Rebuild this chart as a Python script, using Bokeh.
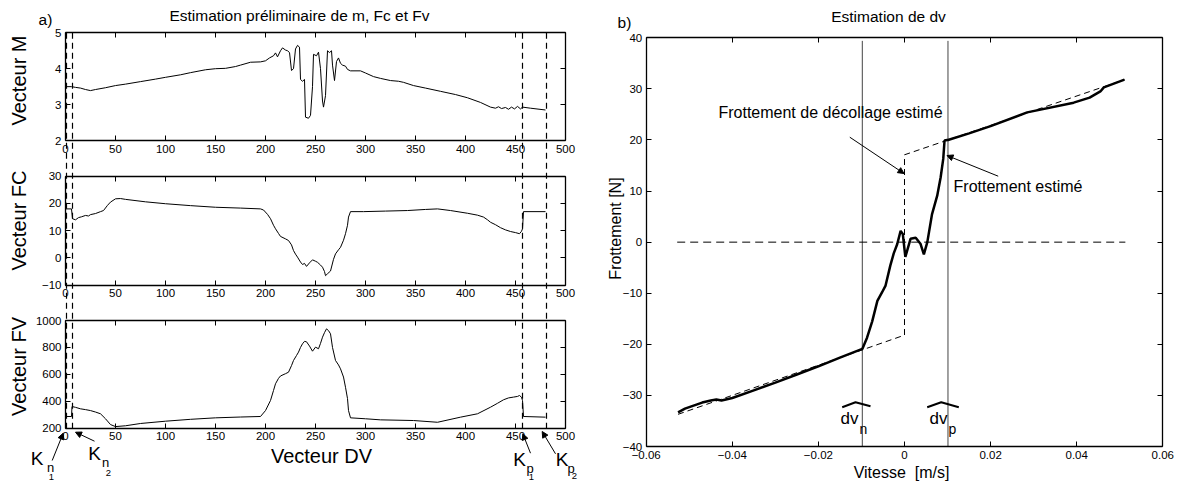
from bokeh.plotting import figure
from bokeh.models import Range1d, LinearAxis, FixedTicker, Label, Arrow, NormalHead
from bokeh.embed import file_html
from bokeh.resources import INLINE
import math

FONT = "Liberation Sans"

# ---------------- panel a) data ----------------
dv_m = [0, 6, 10, 15, 20, 25, 30, 40, 50, 60, 75, 90, 100, 115, 125, 140, 150, 160, 170, 175, 185, 195,
        200, 204, 208, 210, 212, 215, 217, 220, 222, 224, 226, 228, 230, 232, 234, 235, 237, 239, 240,
        243, 245, 247, 248, 251, 253, 255, 257, 258, 260, 262, 264, 266, 267, 269, 271, 273, 275, 277,
        280, 282, 285, 295, 300, 308, 315, 325, 333, 338, 348, 360, 375, 390, 402, 415, 425, 430, 433,
        436, 440, 443, 446, 449, 452, 455, 457, 465, 480]
m_vals = [3.5, 3.5, 3.48, 3.46, 3.42, 3.39, 3.42, 3.47, 3.53, 3.57, 3.64, 3.71, 3.76, 3.83, 3.89, 3.97,
          4.0, 4.01, 4.06, 4.10, 4.18, 4.19, 4.22, 4.3, 4.36, 4.44, 4.33, 4.5, 4.58, 4.52, 4.5, 4.45,
          3.95, 4.0, 4.55, 4.65, 4.6, 3.7, 3.65, 3.7, 2.65, 2.62, 2.7, 3.5, 4.4, 4.36, 4.46, 4.0, 3.1,
          2.93, 3.25, 4.5, 4.45, 4.5, 4.1, 3.67, 4.2, 4.3, 4.15, 4.1, 4.07, 3.98, 3.94, 3.94, 3.88, 3.78,
          3.73, 3.67, 3.65, 3.62, 3.53, 3.46, 3.37, 3.28, 3.19, 3.06, 2.93, 2.9, 2.94, 2.89, 2.92, 2.87,
          2.93, 2.88, 2.95, 2.88, 2.93, 2.9, 2.85]

dv_fc = [0, 6, 7, 10, 13, 16, 20, 23, 25, 30, 35, 38, 42, 45, 50, 55, 60, 80, 100, 125, 150, 175, 195,
         198, 202, 205, 208, 210, 213, 215, 220, 223, 226, 228, 230, 232, 235, 237, 239, 241, 244, 247,
         250, 252, 255, 257, 259, 260, 262, 265, 268, 270, 273, 275, 278, 280, 282, 283, 285, 298, 320,
         342, 360, 372, 385, 402, 412, 418, 422, 425, 430, 435, 440, 445, 450, 454, 456, 457, 458, 480]
fc_vals = [18, 18, 14.4, 14, 14.8, 15.1, 15.6, 15.4, 15.9, 16.3, 17.0, 17.4, 19.3, 20.5, 21.7, 21.8,
           21.5, 20.6, 19.9, 19.2, 18.6, 18.3, 18.0, 17.6, 16.0, 14.4, 12.0, 10.7, 9.0, 7.9, 7.0, 6.4,
           4.8, 2.7, 1.4, 0.3, -1.5, -2.4, -2.0, -3.1, -1.8, -0.7, -1.2, -1.6, -2.6, -3.4, -5.0, -6.5,
           -5.8, -4.8, -0.5, 1.5, 3.0, 3.9, 6.5, 8.9, 12.0, 15.0, 17.0, 17.0, 17.2, 17.4, 17.8, 18.0,
           17.4, 16.4, 15.7, 15.0, 14.0, 13.1, 12.2, 11.1, 10.3, 9.7, 9.3, 8.9, 9.8, 10.7, 17.0, 17.0]

dv_fv = [0, 6, 6.5, 10, 15, 20, 25, 30, 35, 40, 45, 50, 60, 75, 100, 125, 150, 175, 195, 200, 205, 208,
         210, 213, 215, 220, 223, 226, 228, 231, 233, 235, 237, 239, 241, 244, 247, 250, 253, 255, 257,
         259, 261, 263, 265, 267, 270, 273, 275, 278, 280, 282, 283, 285, 300, 315, 348, 372, 395, 412,
         425, 432, 438, 443, 448, 452, 454, 456, 457, 458, 480]
fv_vals = [287, 287, 361, 355, 344, 338, 331, 320, 307, 270, 227, 212, 218, 235, 252, 266, 277, 283, 287,
           331, 406, 480, 530, 570, 588, 605, 616, 665, 703, 740, 765, 800, 827, 845, 842, 810, 772, 802,
           790, 830, 876, 910, 938, 925, 901, 800, 703, 670, 641, 580, 504, 420, 331, 277, 270, 262, 257,
           244, 282, 307, 356, 385, 411, 425, 431, 436, 443, 430, 406, 287, 282]

x_ticks_a = [0, 50, 100, 150, 200, 250, 300, 350, 400, 450, 500]
m_ticks = [2, 3, 4, 5]
fc_ticks = [-10, 0, 10, 20, 30]
fv_ticks = [200, 400, 600, 800, 1000]
k_marks = [1, 7, 457, 481]

# ---------------- panel b) data ----------------
v_meas = [-0.0526, -0.0510, -0.049, -0.047, -0.045, -0.0437, -0.0425, -0.040, -0.035, -0.030, -0.025,
          -0.020, -0.015, -0.0098, -0.0087, -0.0075, -0.0063, -0.0052, -0.0044, -0.0033, -0.0025,
          -0.0017, -0.0009, -0.0004, 0.0002, 0.0014, 0.0026, 0.0037, 0.0045, 0.0053, 0.0064, 0.0076,
          0.0084, 0.0090, 0.0093, 0.0099, 0.0101, 0.015, 0.020, 0.0285, 0.0393, 0.043, 0.0455, 0.0463,
          0.0511]
f_meas = [-33.3, -32.6, -32.0, -31.4, -31.0, -30.8, -31.0, -30.5, -29.0, -27.5, -25.9, -24.3, -22.6,
          -20.9, -18.7, -15.5, -11.5, -9.8, -8.5, -4.6, -2.2, -0.4, 2.2, 1.6, -2.9, 0.65, 0.85, -0.3,
          -2.4, 0.0, 5.5, 9.1, 12.7, 16.3, 19.9, 20.0, 20.0, 21.3, 22.7, 25.4, 27.3, 28.3, 29.5, 30.3,
          31.8]
v_model = [-0.0526, 0.0, 0.0, 0.0511]
f_model = [-33.7, -18.2, 17.1, 31.8]
v_zero = [-0.0528, 0.0513]
f_zero = [0, 0]
dv_n = -0.0098
dv_p = 0.0101
x_ticks_b = [-0.06, -0.04, -0.02, 0, 0.02, 0.04, 0.06]
y_ticks_b = [-40, -30, -20, -10, 0, 10, 20, 30, 40]

# ---------------- layout (pixel geometry of the page) ----------------
W, H = 1186, 486


def px_range(v_a, p_a, v_b, p_b, lo_px, hi_px):
    k = (v_b - v_a) / (p_b - p_a)
    return Range1d(start=v_a + (lo_px - p_a) * k, end=v_a + (hi_px - p_a) * k)


p = figure(width=W, height=H, x_range=Range1d(0, W), y_range=Range1d(H, 0),
           output_backend="svg", toolbar_location=None,
           x_axis_location=None, y_axis_location=None,
           min_border=0, min_border_left=0, min_border_right=0, min_border_top=0, min_border_bottom=0)
p.outline_line_color = None
p.xgrid.visible = False
p.ygrid.visible = False
p.background_fill_color = "white"
p.border_fill_color = "white"

p.extra_x_ranges = {
    "dv": px_range(0, 65, 500, 565, 0, W),
    "v": px_range(-0.06, 645.7, 0.06, 1162.3, 0, W),
}
p.extra_y_ranges = {
    "m": px_range(2, 140, 5, 32.3, H, 0),
    "fc": px_range(-10, 284.7, 30, 175.7, H, 0),
    "fv": px_range(200, 427.7, 1000, 320, H, 0),
    "f": px_range(-40, 446, 40, 37.3, H, 0),
}


def style(ax):
    ax.axis_line_color = "black"
    ax.axis_line_width = 1.3
    ax.major_tick_line_color = "black"
    ax.minor_tick_line_color = "black"
    ax.major_tick_in = 5
    ax.major_tick_out = 0
    ax.minor_tick_in = 0
    ax.minor_tick_out = 0
    ax.major_label_text_font = FONT
    ax.major_label_text_font_size = "11.5px"
    ax.major_label_text_color = "black"


def panel_axes(xname, yname, xb, yb, xt, yt, xover=None, yover=None):
    for loc, fixed, bounds, ticks, over in (("below", yb[0], xb, xt, xover),
                                            ("left", xb[0], yb, yt, yover)):
        ax = LinearAxis(x_range_name=xname, y_range_name=yname, fixed_location=fixed,
                        bounds=bounds, ticker=FixedTicker(ticks=ticks))
        style(ax)
        ax.major_label_standoff = 4
        if over:
            ax.major_label_overrides = over
        p.add_layout(ax, loc)
    for loc, fixed, bounds, ticks in (("above", yb[1], xb, xt), ("right", xb[1], yb, yt)):
        ax = LinearAxis(x_range_name=xname, y_range_name=yname, fixed_location=fixed,
                        bounds=bounds, ticker=FixedTicker(ticks=[], minor_ticks=ticks))
        style(ax)
        ax.minor_tick_in = 5
        p.add_layout(ax, loc)


# ---- panel a) three stacked axes ----
panel_axes("dv", "m", (0, 500), (2, 5), x_ticks_a, m_ticks)
panel_axes("dv", "fc", (0, 500), (-10, 30), x_ticks_a, fc_ticks, yover={-10: "\u221210"})
panel_axes("dv", "fv", (0, 500), (200, 1000), x_ticks_a, fv_ticks)

p.line(dv_m, m_vals, x_range_name="dv", y_range_name="m", line_color="black", line_width=1)
p.line(dv_fc, fc_vals, x_range_name="dv", y_range_name="fc", line_color="black", line_width=1)
p.line(dv_fv, fv_vals, x_range_name="dv", y_range_name="fv", line_color="black", line_width=1)

# dashed K markers crossing the three axes
p.segment(x0=k_marks, y0=[32.3] * 4, x1=k_marks, y1=[431] * 4, x_range_name="dv",
          line_color="black", line_width=1.2, line_dash="6 4")


def text(x, y, t, size, angle=0.0, align="center"):
    p.add_layout(Label(x=x, y=y, text=t, text_font=FONT, text_font_size=size, angle=angle,
                       text_align=align, text_baseline="middle", text_color="black"))


def arrow(x0, y0, x1, y1):
    p.add_layout(Arrow(end=NormalHead(size=6, fill_color="black", line_color="black"),
                       x_start=x0, y_start=y0, x_end=x1, y_end=y1,
                       line_color="black", line_width=1))


text(299, 15, "Estimation préliminaire de m, Fc et Fv", "15.5px")
text(45, 19, "a)", "15.5px")
text(18, 80, "Vecteur M", "20px", angle=math.pi / 2)
text(18, 220, "Vecteur FC", "20px", angle=math.pi / 2)
text(18, 366, "Vecteur FV", "20px", angle=math.pi / 2)
text(321, 455, "Vecteur DV", "20px")

k_labels = [
    ("K", "n", "1", (36.7, 458.3), (50, 466.7), (51, 476.7), (51.7, 460), (62.7, 432.7)),
    ("K", "n", "2", (94, 452.5), (105, 461.7), (108, 472), (94, 440.7), (75, 431.7)),
    ("K", "p", "1", (519, 459), (529.5, 468), (531, 476.5), (530, 452.7), (522.3, 433.3)),
    ("K", "p", "2", (561.5, 459), (570.5, 468), (574, 475), (555, 453.3), (541.7, 431)),
]
for t1, t2, t3, a, b, c, s, e in k_labels:
    text(a[0], a[1], t1, "19px")
    text(b[0], b[1], t2, "13px")
    text(c[0], c[1], t3, "9.5px")
    arrow(s[0], s[1], e[0], e[1])

# ---- panel b) ----
panel_axes("v", "f", (-0.06, 0.06), (-40, 40), x_ticks_b, y_ticks_b,
           xover={-0.06: "\u22120.06", -0.04: "\u22120.04", -0.02: "\u22120.02", 0: "0"},
           yover={-40: "\u221240", -30: "\u221230", -20: "\u221220", -10: "\u221210"})

p.segment(x0=[dv_n, dv_p], y0=[-40, -40], x1=[dv_n, dv_p], y1=[39.4, 39.4],
          x_range_name="v", y_range_name="f", line_color="#444444", line_width=1)
p.line(v_zero, f_zero, x_range_name="v", y_range_name="f", line_color="black", line_width=1,
       line_dash="8 5")
p.line(v_model, f_model, x_range_name="v", y_range_name="f", line_color="black", line_width=1,
       line_dash="6 4")
p.line(v_meas, f_meas, x_range_name="v", y_range_name="f", line_color="black", line_width=2.5)

text(888, 16, "Estimation de dv", "15.5px")
text(624, 22, "b)", "15.5px")
text(615, 228, "Frottement [N]", "16px", angle=math.pi / 2)
text(901, 472, "Vitesse\u00a0 [m/s]", "16px")
text(830, 112, "Frottement de décollage estimé", "16px")
arrow(849.3, 136.7, 903.5, 173)
text(1017.5, 186, "Frottement estimé", "16px")
arrow(997.7, 175.7, 946.5, 155)

hat_px = [(841.7, 406.7), (855, 401.7), (870, 405.7)]
hat_pp = [(926.7, 406.7), (940.7, 401.7), (958.3, 406.7)]
for hat in (hat_px, hat_pp):
    p.line([h[0] for h in hat], [h[1] for h in hat], line_color="black", line_width=2)
text(849, 418.3, "dv", "17px")
text(863, 428.5, "n", "14px")
text(938, 418.3, "dv", "17px")
text(952, 428, "p", "14px")

open("out.html", "w").write(file_html(p, INLINE))
